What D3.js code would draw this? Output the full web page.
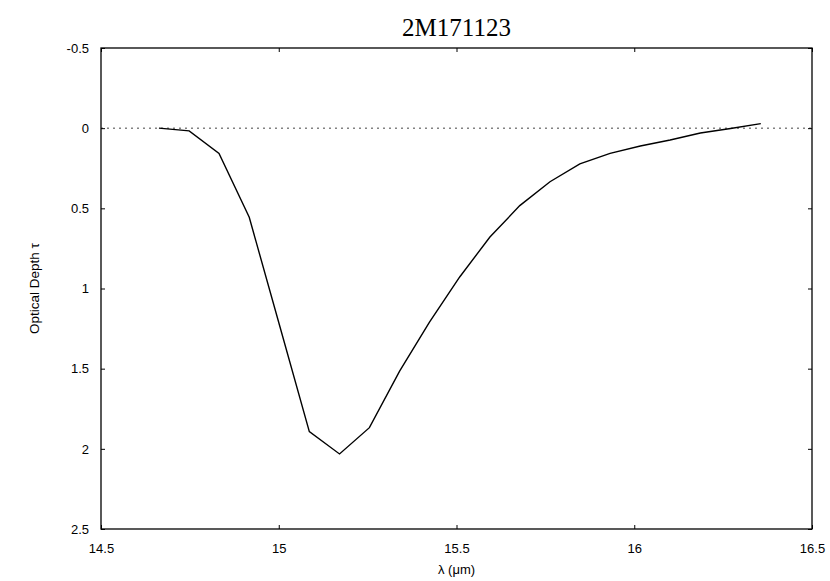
<!DOCTYPE html>
<html>
<head>
<meta charset="utf-8">
<script src="https://cdn.jsdelivr.net/npm/d3@7"></script>
<style>
body { margin: 0; background: #fff; }
.tick text { font-family: "Liberation Sans", Arial, sans-serif; font-size: 13px; fill: #000; }
</style>
</head>
<body>
<div id="chart"></div>
<script>
var wavelength = [14.663, 14.748, 14.832, 14.917, 15.001, 15.086, 15.171, 15.255, 15.340, 15.424,
	15.509, 15.594, 15.678, 15.763, 15.847, 15.932, 16.017, 16.101, 16.186, 16.271, 16.356];
var tau = [0.0, 0.017, 0.157, 0.556, 1.22, 1.893, 2.032, 1.868, 1.515, 1.21,
	0.928, 0.679, 0.483, 0.334, 0.223, 0.157, 0.111, 0.074, 0.03, 0.002, -0.028];
var xTicks = [14.5, 15, 15.5, 16, 16.5];
var yTicks = [-0.5, 0, 0.5, 1, 1.5, 2, 2.5];

var data = wavelength.map(function(d, i){ return {x: d, y: tau[i]}; });

var width = 830, height = 581;
var plotLeft = 101, plotRight = 812, plotTop = 48, plotBottom = 529;

var xScale = d3.scaleLinear().domain([14.5, 16.5]).range([plotLeft, plotRight]);
var yScale = d3.scaleLinear().domain([-0.5, 2.5]).range([plotTop, plotBottom]);

var svg = d3.select("#chart").append("svg")
	.attr("width", width)
	.attr("height", height);

// zero line
svg.append("line")
	.attr("x1", plotLeft).attr("x2", plotRight)
	.attr("y1", yScale(0)).attr("y2", yScale(0))
	.attr("stroke", "#444")
	.attr("stroke-width", 1)
	.attr("stroke-dasharray", "2,4");

// axes, ticks point inward; plain hyphen for negatives
var fmt = function(d){ return String(d); };
svg.append("g")
	.attr("transform", "translate(0," + plotBottom + ")")
	.call(d3.axisBottom(xScale).tickValues(xTicks).tickFormat(fmt).tickSizeInner(-4).tickSizeOuter(0).tickPadding(15))
	.call(function(g){ g.select(".domain").remove(); });
svg.append("g")
	.attr("transform", "translate(0," + plotTop + ")")
	.call(d3.axisTop(xScale).tickValues(xTicks).tickFormat("").tickSizeInner(-4).tickSizeOuter(0))
	.call(function(g){ g.select(".domain").remove(); });
svg.append("g")
	.attr("transform", "translate(" + plotLeft + ",0)")
	.call(d3.axisLeft(yScale).tickValues(yTicks).tickFormat(fmt).tickSizeInner(-4).tickSizeOuter(0).tickPadding(12))
	.call(function(g){ g.select(".domain").remove(); });
svg.append("g")
	.attr("transform", "translate(" + plotRight + ",0)")
	.call(d3.axisRight(yScale).tickValues(yTicks).tickFormat("").tickSizeInner(-4).tickSizeOuter(0))
	.call(function(g){ g.select(".domain").remove(); });

svg.append("rect")
	.attr("x", plotLeft).attr("y", plotTop)
	.attr("width", plotRight - plotLeft).attr("height", plotBottom - plotTop)
	.attr("fill", "none")
	.attr("stroke", "#000")
	.attr("stroke-width", 1.3);

var line = d3.line()
	.x(function(d){ return xScale(d.x); })
	.y(function(d){ return yScale(d.y); });

svg.append("path")
	.datum(data)
	.attr("d", line)
	.attr("fill", "none")
	.attr("stroke", "#000")
	.attr("stroke-width", 1.4);

svg.append("text")
	.attr("x", (plotLeft + plotRight) / 2)
	.attr("y", 36)
	.attr("text-anchor", "middle")
	.style("font-family", "'Liberation Serif', 'Times New Roman', serif")
	.style("font-size", "25px")
	.text("2M171123");

svg.append("text")
	.attr("x", (plotLeft + plotRight) / 2)
	.attr("y", 574)
	.attr("text-anchor", "middle")
	.style("font-family", "'Liberation Sans', Arial, sans-serif")
	.style("font-size", "13px")
	.text("λ (μm)");

svg.append("text")
	.attr("transform", "translate(39," + ((plotTop + plotBottom) / 2) + ") rotate(-90)")
	.attr("text-anchor", "middle")
	.style("font-family", "'Liberation Sans', Arial, sans-serif")
	.style("font-size", "13.5px")
	.text("Optical Depth τ");
</script>
</body>
</html>
